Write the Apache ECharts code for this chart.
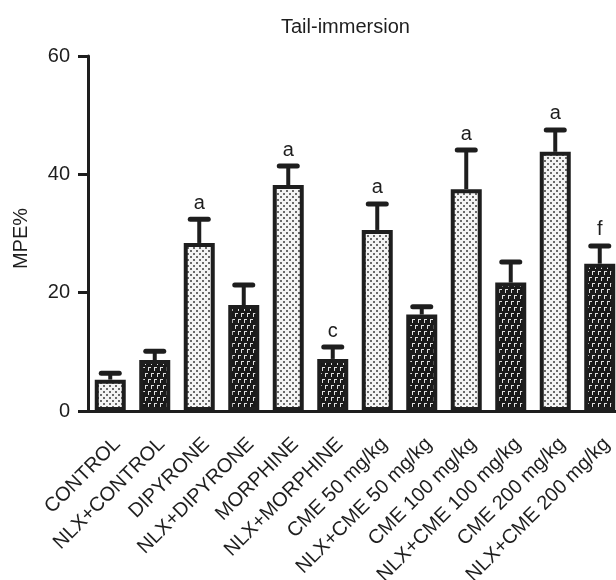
<!DOCTYPE html>
<html>
<head>
<meta charset="utf-8">
<script src="https://cdn.jsdelivr.net/npm/echarts@6/dist/echarts.min.js"></script>
<style>html,body{margin:0;padding:0;background:#fff;}#c{width:616px;height:580px;}</style>
</head>
<body>
<div id="c"></div>
<script>
var categories = ['CONTROL', 'NLX+CONTROL', 'DIPYRONE', 'NLX+DIPYRONE', 'MORPHINE', 'NLX+MORPHINE',
  'CME 50 mg/kg', 'NLX+CME 50 mg/kg', 'CME 100 mg/kg', 'NLX+CME 100 mg/kg', 'CME 200 mg/kg', 'NLX+CME 200 mg/kg'];
var meanValues = [5.3, 8.6, 28.4, 17.9, 38.2, 8.8, 30.6, 16.3, 37.5, 21.7, 43.8, 24.9];
var semValues = [1.1, 1.5, 4.0, 3.4, 3.2, 2.0, 4.4, 1.3, 6.6, 3.5, 3.7, 3.0];
var sigLetters = ['', '', 'a', '', 'a', 'c', 'a', '', 'a', '', 'a', 'f'];
var yTicks = [0, 20, 40, 60];

var FONT = "'Liberation Sans', Arial, Helvetica, sans-serif";
var INK = '#1e1e1e';

function dotPattern() {
  var c = document.createElement('canvas');
  c.width = 6; c.height = 6;
  var g = c.getContext('2d');
  g.fillStyle = '#f4f4f4'; g.fillRect(0, 0, 6, 6);
  g.fillStyle = '#6a6a6a';
  g.fillRect(1, 1, 2, 2);
  g.fillRect(4, 4, 2, 2);
  return c;
}
function hookPattern() {
  var c = document.createElement('canvas');
  c.width = 6; c.height = 12;
  var g = c.getContext('2d');
  g.fillStyle = '#1a1a1a'; g.fillRect(0, 0, 6, 12);
  g.fillStyle = '#e0e0e0';
  g.fillRect(1, 1, 1, 4);
  g.fillRect(1, 1, 3, 1);
  g.fillRect(4, 7, 1, 4);
  g.fillRect(4, 7, 2, 1);
  g.fillRect(0, 7, 1, 1);
  return c;
}
var lightFill = { image: dotPattern(), repeat: 'repeat' };
var darkFill = { image: hookPattern(), repeat: 'repeat' };

var barData = meanValues.map(function (v, i) {
  return { value: v, itemStyle: { color: i % 2 === 0 ? lightFill : darkFill } };
});
var errData = meanValues.map(function (v, i) { return [i, v, semValues[i]]; });

var chart = echarts.init(document.getElementById('c'), null, { renderer: 'canvas' });
chart.setOption({
  animation: false,
  backgroundColor: '#fff',
  title: {
    text: 'Tail-immersion',
    left: 281, top: 17, padding: 0,
    textStyle: { fontFamily: FONT, fontSize: 20, fontWeight: 'normal', color: INK }
  },
  grid: { left: 88, top: 56, width: 534, height: 355, outerBoundsMode: 'none' },
  xAxis: {
    type: 'category',
    data: categories,
    axisLine: { lineStyle: { color: INK, width: 3 } },
    axisTick: { alignWithLabel: true, length: 10, lineStyle: { color: INK, width: 3 } },
    axisLabel: {
      rotate: 45, margin: 23, interval: 0, verticalAlign: 'top',
      fontFamily: FONT, fontSize: 20, color: INK
    }
  },
  yAxis: {
    type: 'value', min: 0, max: 60, interval: 20,
    name: 'MPE%', nameLocation: 'middle', nameGap: 57, nameRotate: 90,
    nameTextStyle: { fontFamily: FONT, fontSize: 20, color: INK, padding: [6, 10, 0, 0] },
    axisLine: { show: true, lineStyle: { color: INK, width: 3 } },
    axisTick: { show: true, length: 10, lineStyle: { color: INK, width: 3 } },
    axisLabel: { margin: 18, fontFamily: FONT, fontSize: 20, color: INK,
      formatter: function (v) { return yTicks.indexOf(v) >= 0 ? String(v) : ''; } },
    splitLine: { show: false }
  },
  series: [
    {
      type: 'bar',
      data: barData,
      barWidth: 31,
      itemStyle: { borderColor: INK, borderWidth: 4 },
      z: 2
    },
    {
      type: 'custom',
      data: errData,
      z: 3,
      renderItem: function (params, api) {
        var i = api.value(0), m = api.value(1), e = api.value(2);
        var base = api.coord([i, m]);
        var top = api.coord([i, m + e]);
        var children = [
          { type: 'line', shape: { x1: base[0], y1: base[1], x2: top[0], y2: top[1] },
            style: { stroke: INK, lineWidth: 4 } },
          { type: 'line', shape: { x1: top[0] - 9, y1: top[1], x2: top[0] + 9, y2: top[1] },
            style: { stroke: INK, lineWidth: 5, lineCap: 'round' } }
        ];
        var letter = sigLetters[params.dataIndex];
        if (letter) {
          children.push({ type: 'text', x: top[0], y: top[1] - 16,
            style: { text: letter, fill: INK, font: '20px ' + FONT, align: 'center', verticalAlign: 'middle' } });
        }
        return { type: 'group', children: children };
      }
    }
  ]
});
</script>
</body>
</html>
